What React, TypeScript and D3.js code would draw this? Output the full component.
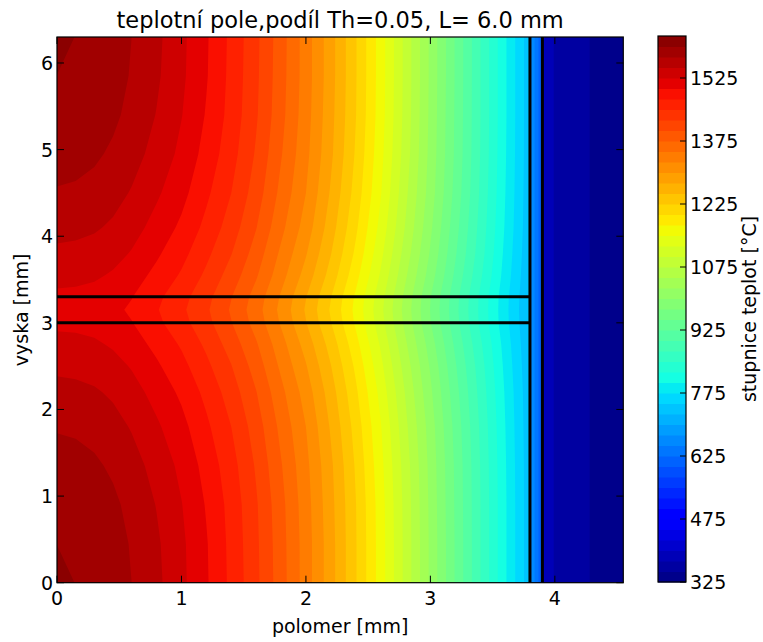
import React from 'react';
import * as d3 from 'd3';

// ---------- data ----------
// radial positions of the pellet temperature grid [mm]
const radiusNodes = [0, 0.15, 0.3, 0.45, 0.6, 0.8, 1.0, 1.2, 1.4, 1.6, 1.8, 2.0, 2.2, 2.4, 2.6, 2.8, 3.0, 3.2, 3.4, 3.6, 3.8];
// axial positions of the pellet temperature grid [mm]
const heightNodes = [0, 0.45, 0.9, 1.35, 1.8, 2.2, 2.5, 2.75, 3.0, 3.15, 3.3, 3.55, 3.8, 4.1, 4.5, 4.95, 5.4, 5.85, 6.3];
// temperatures [°C], one row per height node
const pelletTemps = [
  [1603, 1599.8, 1595, 1587, 1575, 1556, 1531, 1503, 1469, 1431, 1386, 1338, 1285, 1227, 1163, 1092, 1020, 948, 876, 804, 733],
  [1599.9, 1598, 1593, 1585, 1573, 1554, 1530, 1502, 1468, 1430, 1385, 1338, 1285, 1227, 1163, 1092, 1020, 948, 876, 804, 733],
  [1595, 1593, 1588, 1580, 1568, 1549, 1526, 1498, 1466, 1428, 1383, 1336, 1283, 1226, 1162, 1091, 1019, 947, 876, 804, 733],
  [1585, 1584, 1579, 1571, 1560, 1541, 1519, 1491, 1460, 1422, 1377, 1332, 1280, 1222, 1158, 1088, 1017, 946, 875, 803, 733],
  [1573, 1571, 1567, 1559, 1548, 1529, 1508, 1480, 1450, 1413, 1368, 1325, 1272, 1215, 1152, 1081, 1013, 942, 872, 801, 732],
  [1558, 1556, 1553, 1546, 1535, 1516, 1495, 1468, 1438, 1401, 1357, 1314, 1262, 1205, 1142, 1073, 1005, 935, 867, 798, 731],
  [1545, 1544, 1540, 1534, 1523, 1504, 1483, 1456, 1426, 1389, 1345, 1302, 1251, 1195, 1132, 1064, 997, 928, 862, 794, 729],
  [1533, 1532, 1529, 1522, 1512, 1493, 1472, 1445, 1414, 1378, 1335, 1290, 1240, 1184, 1122, 1054, 988, 920, 855, 790, 727],
  [1520, 1519, 1516, 1510, 1501, 1481, 1459, 1433, 1401, 1365, 1322, 1276, 1226, 1171, 1110, 1043, 976, 910, 846, 784, 725],
  [1516, 1515, 1512, 1506, 1496, 1477, 1455, 1429, 1397, 1361, 1318, 1272, 1222, 1168, 1107, 1040, 974, 908, 845, 783, 724],
  [1520, 1519, 1516, 1510, 1501, 1481, 1459, 1433, 1401, 1365, 1322, 1276, 1226, 1171, 1110, 1043, 976, 910, 846, 784, 725],
  [1533, 1532, 1529, 1522, 1512, 1493, 1472, 1445, 1414, 1378, 1335, 1290, 1240, 1184, 1122, 1054, 988, 920, 855, 790, 727],
  [1545, 1544, 1540, 1534, 1523, 1504, 1483, 1456, 1426, 1389, 1345, 1302, 1251, 1195, 1132, 1064, 997, 928, 862, 794, 729],
  [1558, 1556, 1553, 1546, 1535, 1516, 1495, 1468, 1438, 1401, 1357, 1314, 1262, 1205, 1142, 1073, 1005, 935, 867, 798, 731],
  [1573, 1571, 1567, 1559, 1548, 1529, 1508, 1480, 1450, 1413, 1368, 1325, 1272, 1215, 1152, 1081, 1013, 942, 872, 801, 732],
  [1585, 1584, 1579, 1571, 1560, 1541, 1519, 1491, 1460, 1422, 1377, 1332, 1280, 1222, 1158, 1088, 1017, 946, 875, 803, 733],
  [1595, 1593, 1588, 1580, 1568, 1549, 1526, 1498, 1466, 1428, 1383, 1336, 1283, 1226, 1162, 1091, 1019, 947, 876, 804, 733],
  [1599.9, 1598, 1593, 1585, 1573, 1554, 1530, 1502, 1468, 1430, 1385, 1338, 1285, 1227, 1163, 1092, 1020, 948, 876, 804, 733],
  [1603, 1599.8, 1595, 1587, 1575, 1556, 1531, 1503, 1469, 1431, 1386, 1338, 1285, 1227, 1163, 1092, 1020, 948, 876, 804, 733],
];
// gas gap (radial profile)
const gapRadius = [3.8, 3.9];
const gapTemps = [680, 600];
// cladding (radial profile)
const cladRadius = [3.9, 4.0, 4.28, 4.55];
const cladTemps = [405, 372, 350, 327];
// full height of the segment
const fullHeight = [0, 6.3];

// interfaces drawn as black lines
const interfaceHeights = [3.0, 3.3];
const interfaceRadii = [3.8, 3.9];

// axes / colorbar ticks
const xTicks = [0, 1, 2, 3, 4];
const yTicks = [0, 1, 2, 3, 4, 5, 6];
const cbarTicks = [325, 475, 625, 775, 925, 1075, 1225, 1375, 1525];
const levelMin = 325;
const levelMax = 1625;
const levelStep = 25;

const titleText = 'teplotní pole,podíl Th=0.05, L= 6.0 mm';
const xLabel = 'polomer [mm]';
const yLabel = 'vyska [mm]';
const cLabel = 'stupnice teplot [°C]';

// ---------- jet colormap ----------
const jetR = d3.scaleLinear().domain([0, 0.35, 0.66, 0.89, 1]).range([0, 0, 1, 1, 0.5]).clamp(true);
const jetG = d3.scaleLinear().domain([0, 0.125, 0.375, 0.64, 0.91, 1]).range([0, 0, 1, 1, 0, 0]).clamp(true);
const jetB = d3.scaleLinear().domain([0, 0.11, 0.34, 0.65, 1]).range([0.5, 1, 1, 0, 0]).clamp(true);
const jet = (t: number) => d3.rgb(jetR(t) * 255, jetG(t) * 255, jetB(t) * 255).formatHex();

const W = 763, H = 642;
const plot = { left: 57, right: 623.3, top: 37, bottom: 582.7 };
const cbar = { left: 658, right: 686, top: 36, bottom: 582 };
const FONT = 'DejaVu Sans';

function contourLayers(xNodes: number[], yNodes: number[], rows: number[][], thresholds: number[], xs: any, ys: any) {
  const nx = xNodes.length, ny = yNodes.length;
  const values = rows.flat();
  const ix = d3.scaleLinear().domain(d3.range(nx)).range(xNodes);
  const iy = d3.scaleLinear().domain(d3.range(ny)).range(yNodes);
  const proj = d3.geoTransform({
    point(x: number, y: number) {
      const u = Math.max(0, Math.min(nx - 1, x - 0.5));
      const v = Math.max(0, Math.min(ny - 1, y - 0.5));
      (this as any).stream.point(xs(ix(u)), ys(iy(v)));
    },
  });
  const path = d3.geoPath(proj);
  const gen = d3.contours().size([nx, ny]).thresholds(thresholds);
  return gen(values).map((c) => ({ value: c.value, d: path(c as any) || '' }));
}

export default function App() {
  const xScale = d3.scaleLinear().domain([0, 4.55]).range([plot.left, plot.right]);
  const yScale = d3.scaleLinear().domain([0, 6.3]).range([plot.bottom, plot.top]);
  const cScale = d3.scaleLinear().domain([levelMin, levelMax]).range([cbar.bottom, cbar.top]);
  const levels = d3.range(levelMin, levelMax + 1, levelStep);
  const thresholds = levels.slice(0, -1);
  const bandColor = (lo: number) => jet((lo + levelStep / 2 - levelMin) / (levelMax - levelMin));

  const pellet = contourLayers(radiusNodes, heightNodes, pelletTemps, thresholds, xScale, yScale);
  const gap = contourLayers(gapRadius, fullHeight, [gapTemps, gapTemps], thresholds, xScale, yScale);
  const clad = contourLayers(cladRadius, fullHeight, [cladTemps, cladTemps], thresholds, xScale, yScale);

  const layers = [...pellet, ...gap, ...clad];
  const tickLen = 7;
  const fs = 19;

  return (
    <svg width={W} height={H} style={{ position: 'absolute', left: 0, top: 0 }} fontFamily={FONT}>
      <defs>
        <clipPath id="plotclip">
          <rect x={plot.left} y={plot.top} width={plot.right - plot.left} height={plot.bottom - plot.top} />
        </clipPath>
      </defs>
      <rect x={0} y={0} width={W} height={H} fill="#fff" />
      <g clipPath="url(#plotclip)">
        {layers.map((l, i) => (
          <path key={i} d={l.d} fill={bandColor(l.value)} stroke="none" />
        ))}
        {interfaceHeights.map((h) => (
          <line key={'h' + h} x1={xScale(0)} x2={xScale(interfaceRadii[0])} y1={yScale(h)} y2={yScale(h)} stroke="#000" strokeWidth={3} />
        ))}
        {interfaceRadii.map((r) => (
          <line key={'v' + r} x1={xScale(r)} x2={xScale(r)} y1={yScale(0)} y2={yScale(6.3)} stroke="#000" strokeWidth={3} />
        ))}
      </g>
      {/* frame */}
      <rect x={plot.left} y={plot.top} width={plot.right - plot.left} height={plot.bottom - plot.top} fill="none" stroke="#000" strokeWidth={1.2} />
      {/* x ticks */}
      {xTicks.map((t) => (
        <g key={'xt' + t}>
          <line x1={xScale(t)} x2={xScale(t)} y1={plot.bottom} y2={plot.bottom - tickLen} stroke="#000" strokeWidth={1} />
          <line x1={xScale(t)} x2={xScale(t)} y1={plot.top} y2={plot.top + tickLen} stroke="#000" strokeWidth={1} />
          <text x={xScale(t)} y={605} textAnchor="middle" fontSize={fs} fill="#000">{t}</text>
        </g>
      ))}
      {yTicks.map((t) => (
        <g key={'yt' + t}>
          <line x1={plot.left} x2={plot.left + tickLen} y1={yScale(t)} y2={yScale(t)} stroke="#000" strokeWidth={1} />
          <line x1={plot.right} x2={plot.right - tickLen} y1={yScale(t)} y2={yScale(t)} stroke="#000" strokeWidth={1} />
          <text x={53} y={yScale(t) + 7} textAnchor="end" fontSize={fs} fill="#000">{t}</text>
        </g>
      ))}
      <text x={(plot.left + plot.right) / 2} y={633} textAnchor="middle" fontSize={fs} fill="#000">{xLabel}</text>
      <text transform={`translate(28,${(plot.top + plot.bottom) / 2}) rotate(-90)`} textAnchor="middle" fontSize={fs} fill="#000">{yLabel}</text>
      <text x={(plot.left + plot.right) / 2} y={28} textAnchor="middle" fontSize={22.5} fill="#000">{titleText}</text>

      {/* colorbar */}
      {thresholds.map((lo) => (
        <rect key={'cb' + lo} x={cbar.left} width={cbar.right - cbar.left} y={cScale(lo + levelStep)} height={cScale(lo) - cScale(lo + levelStep) + 0.5} fill={bandColor(lo)} />
      ))}
      <rect x={cbar.left} y={cbar.top} width={cbar.right - cbar.left} height={cbar.bottom - cbar.top} fill="none" stroke="#000" strokeWidth={1.2} />
      {cbarTicks.map((t) => (
        <g key={'ct' + t}>
          <line x1={cbar.right} x2={cbar.right - 6} y1={cScale(t)} y2={cScale(t)} stroke="#000" strokeWidth={1} />
          <text x={690} y={cScale(t) + 7} fontSize={fs} fill="#000">{t}</text>
        </g>
      ))}
      <text transform={`translate(756,${(cbar.top + cbar.bottom) / 2}) rotate(-90)`} textAnchor="middle" fontSize={fs} fill="#000">{cLabel}</text>
    </svg>
  );
}
